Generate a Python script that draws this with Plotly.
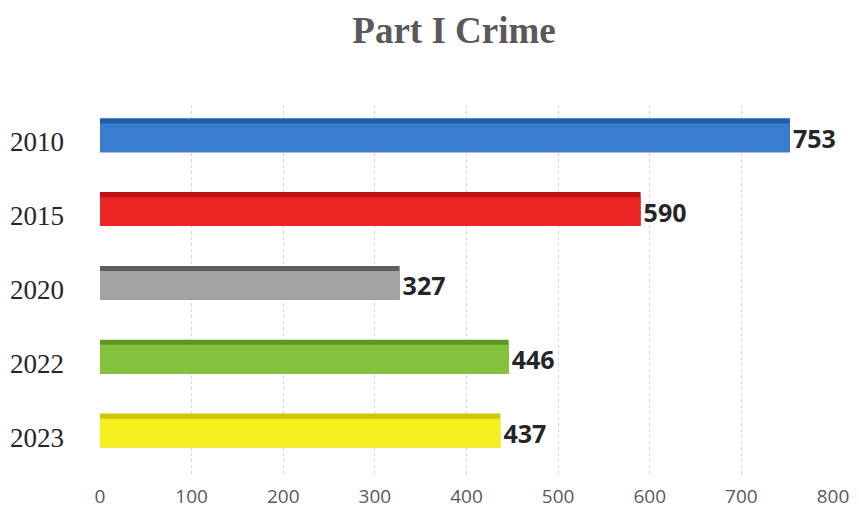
import plotly.graph_objects as go

years = ["2010", "2015", "2020", "2022", "2023"]
crimes = [753, 590, 327, 446, 437]
x_ticks = [0, 100, 200, 300, 400, 500, 600, 700, 800]

front_colors = ["#3a7cce", "#ec2424", "#a3a3a3", "#84c23e", "#f7f021"]
top_colors = ["#1f5ea8", "#c01313", "#5e5e5e", "#5e9624", "#cfc60a"]

# the page has an 8px body margin, so the figure is 8px smaller each way
W, H = 851, 507

fig = go.Figure()

# darker "top face" of each 3D-looking bar
fig.add_trace(go.Bar(
    y=years, x=crimes, orientation="h",
    marker=dict(color=top_colors, line=dict(width=0)),
    width=0.46, offset=-0.32,
    hoverinfo="skip", showlegend=False,
))

# front face with value labels
fig.add_trace(go.Bar(
    y=years, x=crimes, orientation="h",
    marker=dict(color=front_colors, line=dict(width=0)),
    width=0.39, offset=-0.25,
    text=[str(v) for v in crimes],
    textposition="outside",
    constraintext="none",
    cliponaxis=False,
    textfont=dict(family="Open Sans", size=25, color="#262626", weight="bold"),
    showlegend=False,
))

fig.update_layout(
    width=W, height=H,
    barmode="overlay",
    paper_bgcolor="white", plot_bgcolor="white",
    margin=dict(l=92, r=26, t=97, b=41, autoexpand=False),
    title=dict(
        text="<b>Part I Crime</b>",
        x=446 / W, xanchor="center", xref="container",
        y=1 - 22 / H, yanchor="middle", yref="container",
        font=dict(family="Liberation Serif", size=37, color="#595959"),
    ),
    xaxis=dict(
        range=[0, 800], tickvals=x_ticks, ticktext=[str(t) for t in x_ticks],
        showgrid=True, gridcolor="#d4d4d4", griddash="dot", gridwidth=1,
        zeroline=False, showline=False, ticks="", automargin=False,
        ticklabelstandoff=9,
        tickfont=dict(family="Open Sans", size=19, color="#595959"),
    ),
    yaxis=dict(
        type="category", autorange="reversed", automargin=False,
        showgrid=False, zeroline=False, showline=False, ticks="",
        ticklabelstandoff=35,
        tickfont=dict(family="Liberation Serif", size=27, color="#262626"),
    ),
)

fig.write_html("out.html")
